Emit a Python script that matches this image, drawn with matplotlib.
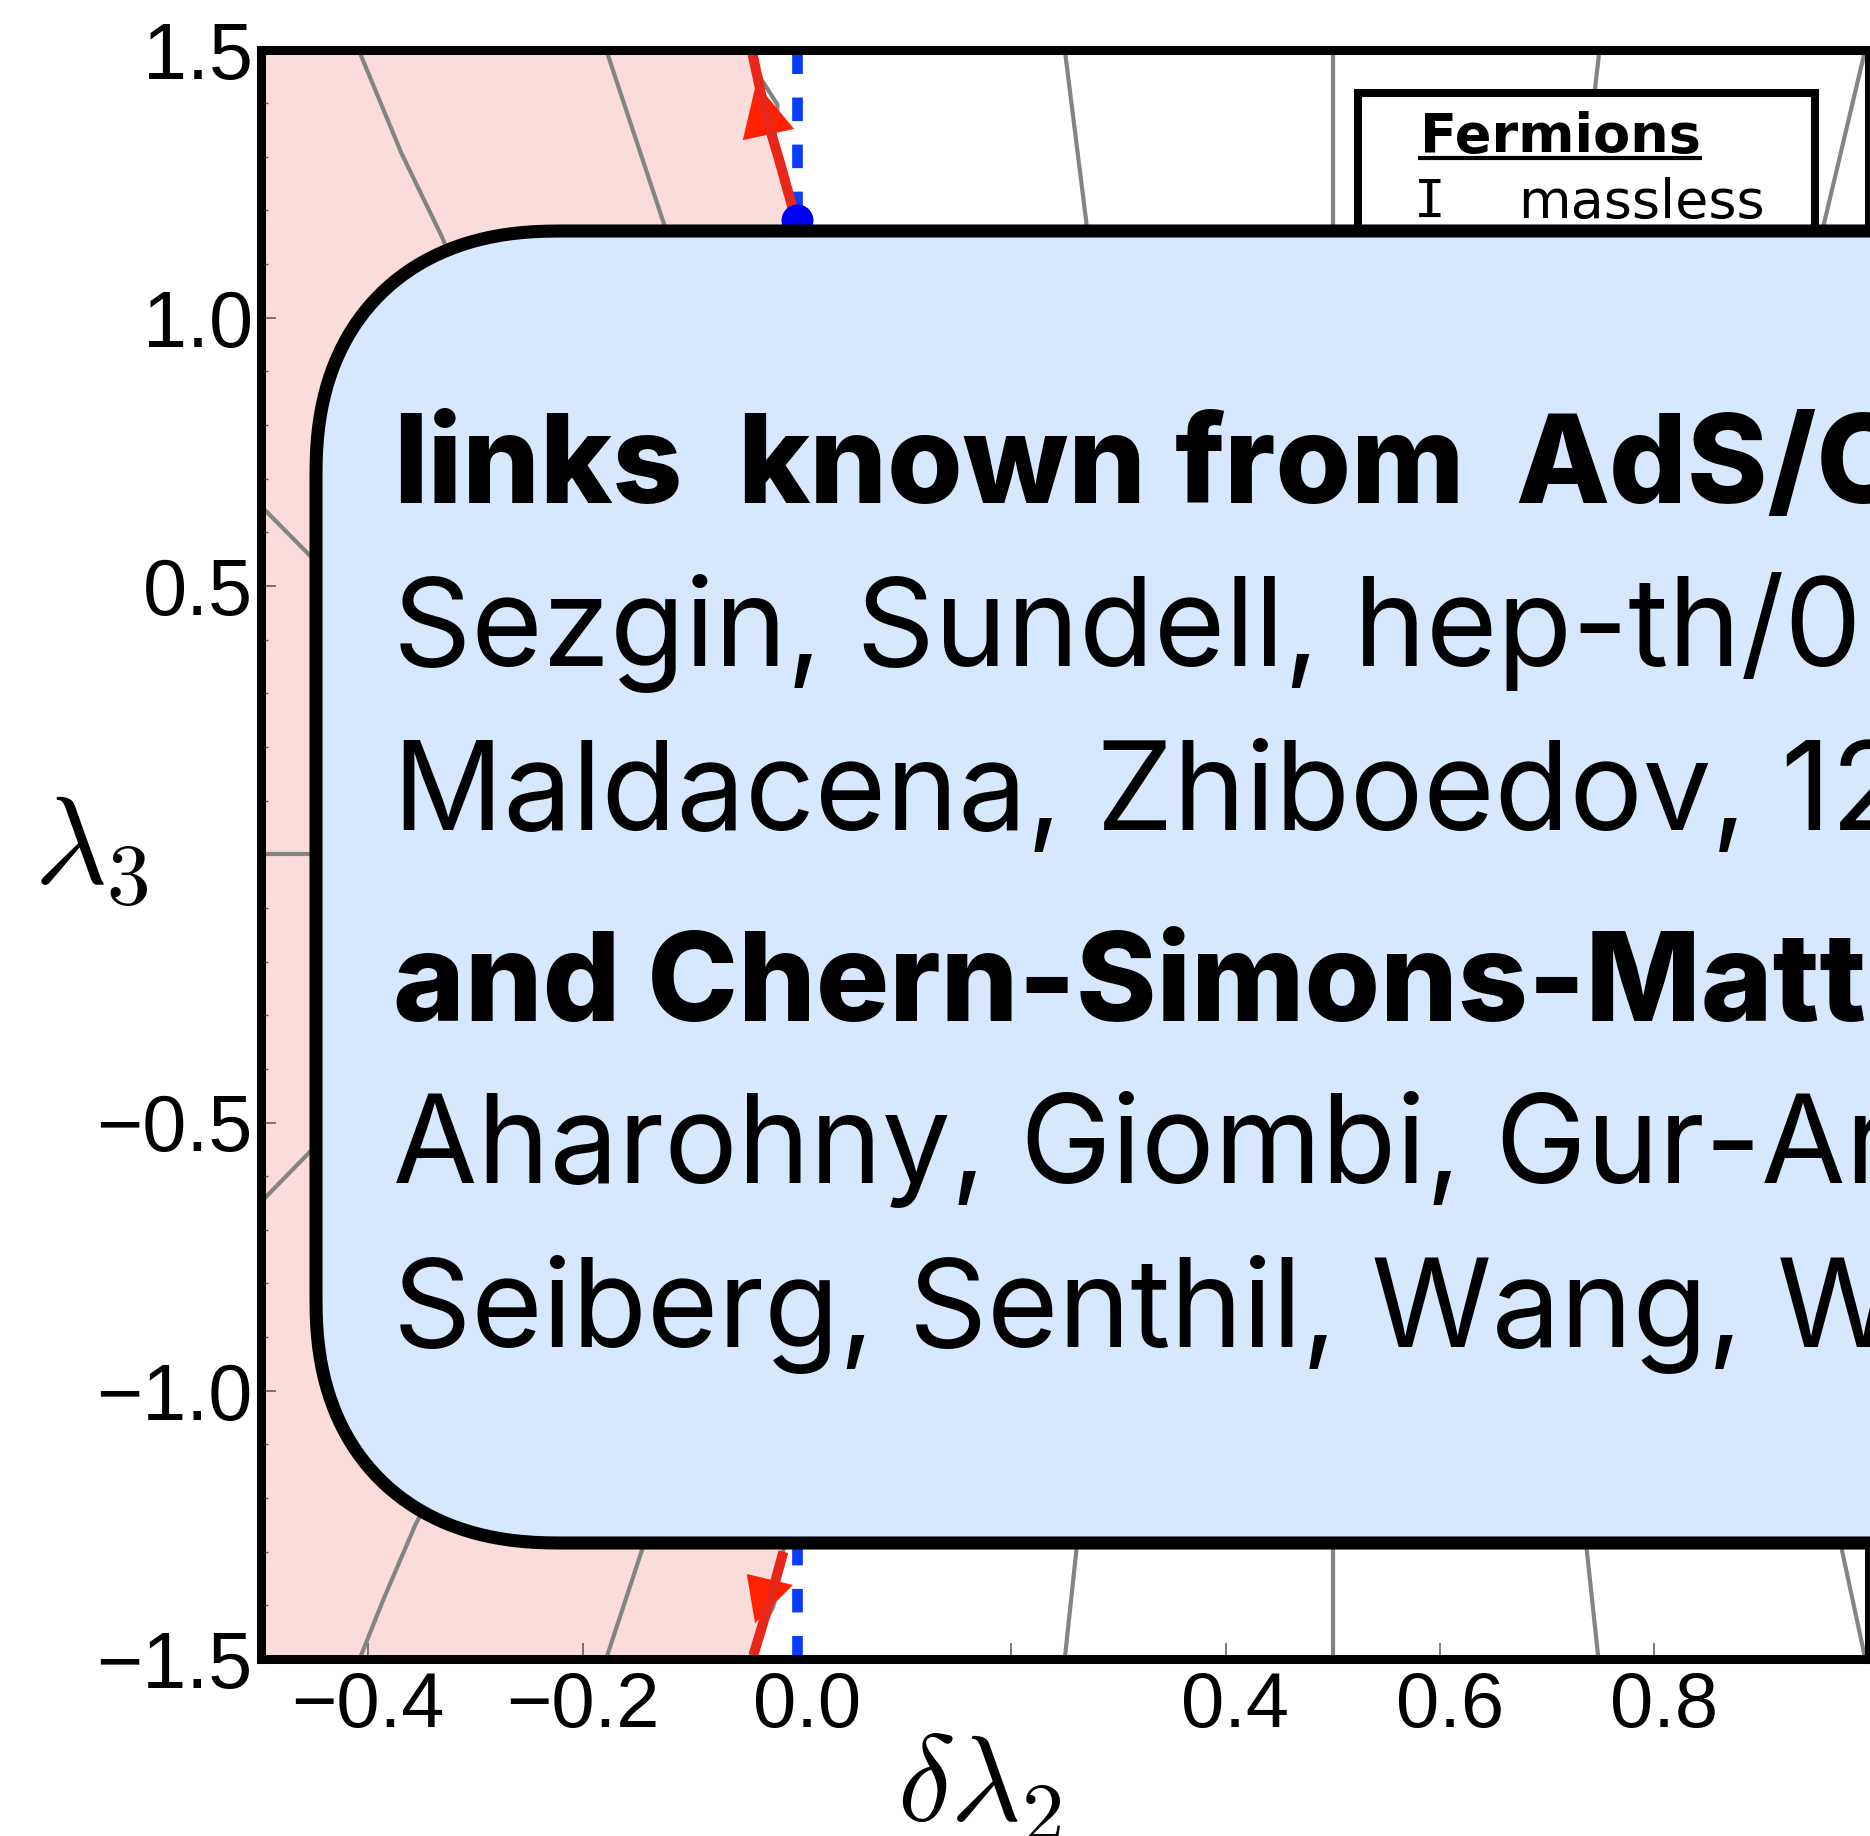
import matplotlib
matplotlib.use("Agg")
import matplotlib.pyplot as plt
from matplotlib.patches import Rectangle, Polygon
from matplotlib.ticker import FixedLocator, NullLocator
from matplotlib.transforms import ScaledTranslation
import numpy as np

plt.rcParams["mathtext.fontset"] = "cm"

# ---------------- axes ranges and ticks ----------------
x_range = (-0.5, 1.0)
y_range = (-1.5, 1.5)
x_ticks = [-0.4, -0.2, 0.0, 0.2, 0.4, 0.6, 0.8]
x_ticklabels = ["\u22120.4", "\u22120.2", "0.0", "", "0.4", "0.6", "0.8"]
y_ticks = [-1.5, -1.0, -0.5, 0.0, 0.5, 1.0, 1.5]
y_ticklabels = ["\u22121.5", "\u22121.0", "\u22120.5", "", "0.5", "1.0", "1.5"]
y_minor_ticks = [-1.4, -1.3, -1.2, -1.1, -0.9, -0.8, -0.7, -0.6, -0.4, -0.3, -0.2, -0.1,
                 0.1, 0.2, 0.3, 0.4, 0.6, 0.7, 0.8, 0.9, 1.1, 1.2, 1.3, 1.4]

# ---------------- unstable (shaded) region edge ----------------
unstable_edge_y = [-1.5, -1.45, -1.40, -1.33, -1.25, -1.15, 0.0, 1.15, 1.20, 1.30, 1.40, 1.45, 1.5]
unstable_edge_x = [-0.046, -0.039, -0.030, -0.020, -0.010, -0.002, 0.0, -0.002, -0.006, -0.018, -0.030, -0.037, -0.045]

# ---------------- grey contour lines (x list, y list) ----------------
contour_e_top = ([-0.409, -0.369, -0.331, -0.30], [1.5, 1.307, 1.150, 1.0])
contour_e_bot = ([-0.408, -0.386, -0.356, -0.33], [-1.5, -1.390, -1.250, -1.15])
contour_f_top = ([-0.178, -0.124, -0.11], [1.5, 1.175, 1.10])
contour_f_bot = ([-0.178, -0.145, -0.13], [-1.5, -1.300, -1.20])
contour_g_top = ([-0.043, -0.034, -0.018, -0.021, -0.011, -0.003, 0.0], [1.5, 1.447, 1.397, 1.33, 1.25, 1.19, 1.0])
contour_g_bot = ([-0.044, -0.035, -0.022, -0.016, -0.008, 0.0], [-1.5, -1.45, -1.403, -1.33, -1.25, -1.0])
contour_h = ([-0.5, -0.454, -0.42], [0.649, 0.556, 0.49])
contour_zero = ([-0.5, -0.42], [0.0, 0.0])
contour_i = ([-0.5, -0.454, -0.42], [-0.648, -0.554, -0.49])
contour_a_top = ([0.25, 0.270, 0.276], [1.5, 1.180, 1.05])
contour_a_bot = ([0.25, 0.261, 0.266], [-1.5, -1.295, -1.15])
contour_b = ([0.5, 0.5], [-1.5, 1.5])
contour_c_top = ([0.749, 0.745, 0.739], [1.5, 1.430, 1.15])
contour_c_bot = ([0.748, 0.737, 0.734], [-1.5, -1.295, -1.15])
contour_d_top = ([0.997, 0.959, 0.950], [1.5, 1.180, 1.10])
contour_d_bot = ([0.997, 0.975, 0.968], [-1.5, -1.295, -1.20])
contours = [contour_e_top, contour_e_bot, contour_f_top, contour_f_bot,
            contour_g_top, contour_g_bot, contour_h, contour_zero, contour_i,
            contour_a_top, contour_a_bot, contour_b, contour_c_top, contour_c_bot,
            contour_d_top, contour_d_bot]

# ---------------- fixed points and flows ----------------
fixed_x = 0.0
fixed_y_top = 1.182
fixed_y_bot = -1.182
flow_up_x = [-0.0035, -0.0156, -0.0296, -0.0417]
flow_up_y = [1.201, 1.288, 1.382, 1.495]
flow_up_head_x = [-0.038, -0.0504, -0.0025]
flow_up_head_y = [1.437, 1.331, 1.352]
flow_dn_x = [-0.0125, -0.0250, -0.0405]
flow_dn_y = [-1.300, -1.390, -1.4925]
flow_dn_head_x = [-0.039, -0.0467, -0.0037]
flow_dn_head_y = [-1.4335, -1.3416, -1.362]

# ---------------- texts ----------------
legend_title = "Fermions"
legend_marker = "I"
legend_entry = "massless"
heading_words = ["links", "known", "from", "AdS/CFT"]
heading_word_x = [393, 737, 1175, 1515]
note_lines = [
    ("Sezgin, Sundell, hep-th/0205131", "normal"),
    ("Maldacena, Zhiboedov, 1204.3882", "normal"),
    ("and Chern-Simons-Matter theories", 800),
    ("Aharohny, Giombi, Gur-Ari, Maldacena, Yacoby", "normal"),
    ("Seiberg, Senthil, Wang, Witten", "normal"),
]
heading_baseline = 503
note_baselines = [666, 830, 1021, 1183, 1347]

W, H = 1870, 1836
fig = plt.figure(figsize=(W / 100, H / 100), dpi=100)
ax = fig.add_axes([261 / W, 1 - 1659 / H, 1607.5 / W, 1609.5 / H])
ax.set_xlim(*x_range)
ax.set_ylim(*y_range)

ax.fill_betweenx(unstable_edge_y, x_range[0], unstable_edge_x, color="#FADDDA", lw=0, zorder=1)
for xs, ys in contours:
    ax.plot(xs, ys, color="#848484", lw=3.0, solid_capstyle="butt", zorder=2)

for y_end in (fixed_y_top, fixed_y_bot):
    y_start = y_range[1] if y_end > 0 else y_range[0]
    ax.plot([fixed_x, fixed_x], [y_start, y_end], color="#0A3CFF", lw=7.7,
            dashes=(2.2, 2.2), dash_capstyle="butt", zorder=3)

for hx, hy in ((flow_up_head_x, flow_up_head_y), (flow_dn_head_x, flow_dn_head_y)):
    ax.add_patch(Polygon(list(zip(hx, hy)), closed=True, fc="#FF2200", ec="none", zorder=4))
for fx, fy in ((flow_up_x, flow_up_y), (flow_dn_x, flow_dn_y)):
    ax.plot(fx, fy, color="#E8261A", lw=7.2, solid_capstyle="butt", zorder=5)

ax.plot([fixed_x, fixed_x], [fixed_y_top, fixed_y_bot], "o", color="#0000F5", ms=23,
        mec="none", zorder=6)

for sp in ax.spines.values():
    sp.set_linewidth(6.5)
    sp.set_color("black")
    sp.set_zorder(10)

ax.xaxis.set_major_locator(FixedLocator(x_ticks))
ax.xaxis.set_minor_locator(NullLocator())
ax.yaxis.set_major_locator(FixedLocator(y_ticks))
ax.yaxis.set_minor_locator(FixedLocator(y_minor_ticks))
ax.set_xticklabels(x_ticklabels, fontfamily="Liberation Sans", fontsize=56)
ax.set_yticklabels(y_ticklabels, fontfamily="Liberation Sans", fontsize=57)
ax.tick_params(axis="x", which="major", direction="in", length=11.5, width=1.1,
               color="#555555", pad=8, top=False)
ax.tick_params(axis="y", which="major", direction="in", length=10.8, width=1.1,
               color="#555555", pad=6, right=False)
ax.tick_params(axis="y", which="minor", direction="in", length=5.3, width=1.0,
               color="#555555", right=False)
# unsigned labels sit a little to the right of their tick
for lbl, txt in zip(ax.get_xticklabels(), x_ticklabels):
    if txt and not txt.startswith("\u2212"):
        lbl.set_transform(lbl.get_transform() + ScaledTranslation(0.10, 0, fig.dpi_scale_trans))

# overlay in pixel coordinates for the legend and the note box
ov = fig.add_axes([0, 0, 1, 1])
ov.set_xlim(0, W)
ov.set_ylim(H, 0)
ov.axis("off")
ov.patch.set_visible(False)

ax.set_xlabel(r"$\delta\lambda_2$", fontsize=87, ha="center", va="baseline")
ax.xaxis.set_label_coords(979, 1821, transform=ov.transData)
ax.set_ylabel(r"$\lambda_3$", fontsize=90, rotation=0, ha="center", va="baseline")
ax.yaxis.set_label_coords(91, 884, transform=ov.transData)

ov.add_patch(Rectangle((1358, 93), 1815 - 1358, 320, fc="white", ec="black", lw=5.8, zorder=1))
ov.text(1420, 152, legend_title, fontfamily="DejaVu Sans", fontweight="bold", fontsize=39,
        ha="left", va="baseline", zorder=2)
ov.plot([1418, 1702], [158, 158], color="black", lw=3.0, solid_capstyle="butt", zorder=2)
ov.text(1429.5, 218, legend_marker, fontfamily="DejaVu Sans Mono", fontsize=38,
        ha="center", va="baseline", zorder=2)
ov.text(1518, 218, legend_entry, fontfamily="DejaVu Sans", fontsize=39,
        ha="left", va="baseline", zorder=2)


def squircle_box(x0, y0, x1, y1, r, n=2.3, m=40):
    """Outline of a box with superellipse corners (pixel coords, y down)."""
    t = np.linspace(0, np.pi / 2, m)
    cx = r * np.cos(t) ** (2 / n)
    cy = r * np.sin(t) ** (2 / n)
    pts = []
    pts += list(zip(x1 - r + cx, y0 + r - cy))                       # top-right
    pts += list(zip(x0 + r - cx[::-1], y0 + r - cy[::-1]))          # top-left
    pts += list(zip(x0 + r - cx, y1 - r + cy))                       # bottom-left
    pts += list(zip(x1 - r + cx[::-1], y1 - r + cy[::-1]))          # bottom-right
    return pts


ov.add_patch(Polygon(squircle_box(316, 231, 2300, 1543, 245), closed=True,
                     fc="#D7E7FD", ec="black", lw=9.4, joinstyle="round", zorder=5))
for word, wx in zip(heading_words, heading_word_x):
    ov.text(wx, heading_baseline, word, fontfamily="Inter", fontweight=800, fontsize=88,
            ha="left", va="baseline", zorder=6)
for (txt, weight), yb in zip(note_lines, note_baselines):
    ov.text(393, yb, txt, fontfamily="Inter", fontweight=weight, fontsize=88,
            ha="left", va="baseline", zorder=6)

fig.savefig("out.png", dpi=100)
